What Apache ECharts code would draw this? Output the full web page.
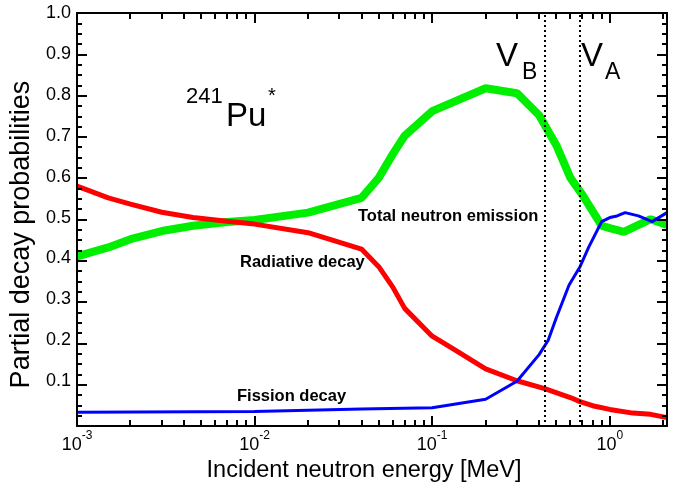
<!DOCTYPE html>
<html>
<head>
<meta charset="utf-8">
<script src="https://cdn.jsdelivr.net/npm/echarts@6/dist/echarts.min.js"></script>
<style>
html, body { margin: 0; padding: 0; background: #fff; }
#wrap { position: relative; width: 685px; height: 488px; }
#chart, #frame { position: absolute; left: 0; top: 0; width: 685px; height: 488px; }
#frame { pointer-events: none; }
</style>
</head>
<body>
<div id="wrap">
  <div id="chart"></div>
  <div id="frame"></div>
</div>
<script>
// energies in MeV, values are partial decay probabilities
const totalNeutron = [
  [0.001, 0.405], [0.0015, 0.427], [0.002, 0.447], [0.003, 0.467], [0.0045, 0.48],
  [0.007, 0.489], [0.01, 0.494], [0.02, 0.512], [0.04, 0.548], [0.05, 0.597],
  [0.06, 0.655], [0.07, 0.70], [0.1, 0.76], [0.2, 0.816], [0.3, 0.804],
  [0.4, 0.75], [0.5, 0.677], [0.6, 0.597], [0.7, 0.556], [0.9, 0.48],
  [1.0, 0.474], [1.2, 0.465], [1.7, 0.496], [2.1, 0.482]
]
const radiative = [
  [0.001, 0.577], [0.0015, 0.548], [0.002, 0.533], [0.003, 0.513], [0.0045, 0.5],
  [0.007, 0.491], [0.01, 0.484], [0.02, 0.463], [0.04, 0.423], [0.05, 0.38],
  [0.06, 0.33], [0.07, 0.278], [0.1, 0.21], [0.13, 0.18], [0.2, 0.13],
  [0.3, 0.101], [0.43, 0.082], [0.6, 0.06], [0.68, 0.05], [0.8, 0.04],
  [1.0, 0.031], [1.35, 0.022], [1.7, 0.019], [2.1, 0.011]
]
const fission = [
  [0.001, 0.024], [0.01, 0.026], [0.04, 0.032], [0.1, 0.035], [0.2, 0.056],
  [0.3, 0.1], [0.4, 0.165], [0.45, 0.2], [0.5, 0.255], [0.59, 0.335],
  [0.68, 0.38], [0.76, 0.427], [0.9, 0.49], [1.0, 0.5], [1.1, 0.504],
  [1.22, 0.512], [1.45, 0.504], [1.73, 0.49], [2.1, 0.512]
]
// barrier heights V_B and V_A
const barriers = [0.434, 0.677]
// minor log ticks (2..9 per decade)
const minorTicks = [
  0.002, 0.003, 0.004, 0.005, 0.006, 0.007, 0.008, 0.009,
  0.02, 0.03, 0.04, 0.05, 0.06, 0.07, 0.08, 0.09,
  0.2, 0.3, 0.4, 0.5, 0.6, 0.7, 0.8, 0.9, 2
]

const FONT = '"Liberation Sans", Arial, Helvetica, sans-serif'
const GRID = { left: 77, right: 18, top: 13, bottom: 62 }

function isDecade(v) {
  const l = Math.log10(v)
  return Math.abs(l - Math.round(l)) < 1e-6
}

// ---- main chart: curves, labels, titles, annotations ----
function annotation(text, left, top, size, bold) {
  return {
    type: 'text', left: left, top: top, z: 10,
    style: { text: text, fontSize: size, fontWeight: bold ? 'bold' : 'normal', fontFamily: FONT, fill: '#000' }
  }
}

const chart = echarts.init(document.getElementById('chart'), null, { renderer: 'canvas' })
chart.setOption({
  animation: false,
  backgroundColor: '#fff',
  textStyle: { fontFamily: FONT },
  grid: GRID,
  xAxis: {
    type: 'log',
    logBase: 10,
    min: 0.001,
    max: 2.1,
    splitLine: { show: false },
    axisLine: { show: false, onZero: false },
    axisTick: { show: false },
    name: 'Incident neutron energy [MeV]',
    nameLocation: 'middle',
    nameGap: 28,
    nameTextStyle: { fontSize: 23.5, color: '#000', fontFamily: FONT, padding: [0, 16, 0, 0] },
    axisLabel: {
      color: '#000',
      margin: 8,
      showMaxLabel: false,
      formatter: function (v) {
        if (!isDecade(v)) return ''
        return '{b|10}{s|' + Math.round(Math.log10(v)) + '}'
      },
      rich: {
        b: { fontSize: 18, fontFamily: FONT, color: '#000', verticalAlign: 'bottom', lineHeight: 24 },
        s: { fontSize: 12, fontFamily: FONT, color: '#000', verticalAlign: 'top' }
      }
    }
  },
  yAxis: {
    type: 'value',
    min: 0,
    max: 1,
    interval: 0.1,
    splitLine: { show: false },
    axisLine: { show: false, onZero: false },
    axisTick: { show: false },
    name: 'Partial decay probabilities',
    nameLocation: 'middle',
    nameRotate: 90,
    nameGap: 40,
    nameTextStyle: { fontSize: 27, color: '#000', fontFamily: FONT, padding: [0, 34, 0, 0] },
    axisLabel: {
      color: '#000',
      fontSize: 18,
      fontFamily: FONT,
      margin: 6,
      formatter: function (v) { return v === 0 ? '' : v.toFixed(1) }
    }
  },
  series: [
    {
      name: 'Total neutron emission',
      type: 'line',
      data: totalNeutron,
      symbol: 'none',
      lineStyle: { color: '#00ee00', width: 8 },
      z: 2
    },
    {
      name: 'Radiative decay',
      type: 'line',
      data: radiative,
      symbol: 'none',
      lineStyle: { color: '#ff0000', width: 5 },
      z: 3
    },
    {
      name: 'Fission decay',
      type: 'line',
      data: fission,
      symbol: 'none',
      lineStyle: { color: '#0000ff', width: 3 },
      z: 4
    },
    {
      // dotted vertical lines at the barrier energies
      type: 'custom',
      silent: true,
      z: 5,
      data: barriers.map(function (b) { return [b, 0] }),
      renderItem: function (params, api) {
        const x = api.value(0)
        const top = api.coord([x, 1])
        const bottom = api.coord([x, 0])
        const px = Math.round(top[0]) - 1
        const dots = []
        for (let y = top[1] + 2; y < bottom[1] - 1; y += 5) {
          dots.push({ type: 'rect', shape: { x: px, y: Math.round(y), width: 2, height: 2 }, style: { fill: '#000' } })
        }
        return { type: 'group', children: dots }
      }
    }
  ],
  graphic: [
    annotation('241', 186, 86, 22),
    annotation('Pu', 226, 100, 33),
    annotation('*', 268, 86, 20),
    annotation('V', 496, 40, 33),
    annotation('B', 522, 61, 23),
    annotation('V', 581, 40, 33),
    annotation('A', 605, 61, 23),
    annotation('Total neutron emission', 358, 208, 16.5, true),
    annotation('Radiative decay', 240, 254, 16.5, true),
    annotation('Fission decay', 237, 388, 16.5, true)
  ]
})

// ---- frame chart on top: box, inward ticks on all four sides ----
function frameX(position) {
  return {
    type: 'log', logBase: 10, min: 0.001, max: 2.1, position: position,
    splitLine: { show: false },
    axisLabel: { show: false },
    axisLine: { show: true, onZero: false, lineStyle: { color: '#000', width: 2 } },
    axisTick: { show: true, inside: true, length: 10, lineStyle: { color: '#000', width: 2 } }
  }
}
function frameY(position) {
  return {
    type: 'value', min: 0, max: 1, interval: 0.1, position: position,
    splitLine: { show: false },
    axisLabel: { show: false },
    axisLine: { show: true, onZero: false, lineStyle: { color: '#000', width: 2 } },
    axisTick: { show: true, inside: true, length: 10, lineStyle: { color: '#000', width: 2 } },
    minorTick: { show: true, splitNumber: 4, length: 5, lineStyle: { color: '#000', width: 2 } }
  }
}

const frame = echarts.init(document.getElementById('frame'), null, { renderer: 'canvas' })
frame.setOption({
  animation: false,
  backgroundColor: 'transparent',
  grid: GRID,
  xAxis: [frameX('bottom'), frameX('top')],
  yAxis: [frameY('left'), frameY('right')],
  series: [
    {
      // minor ticks of the log axis, bottom and top
      type: 'custom',
      clip: false,
      z: 10,
      data: minorTicks.map(function (t) { return [t, 0] }),
      renderItem: function (params, api) {
        const x = api.value(0)
        const b = api.coord([x, 0])
        const t = api.coord([x, 1])
        const px = Math.round(b[0])
        return {
          type: 'group',
          children: [
            { type: 'line', shape: { x1: px, y1: b[1], x2: px, y2: b[1] - 6 }, style: { stroke: '#000', lineWidth: 2 } },
            { type: 'line', shape: { x1: px, y1: t[1], x2: px, y2: t[1] + 6 }, style: { stroke: '#000', lineWidth: 2 } }
          ]
        }
      }
    }
  ]
})
</script>
</body>
</html>
